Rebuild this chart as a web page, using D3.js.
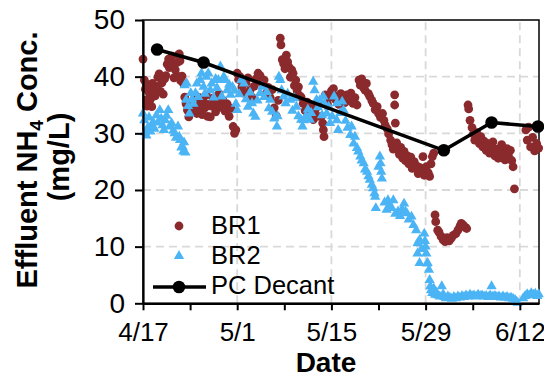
<!DOCTYPE html>
<html><head><meta charset="utf-8">
<script src="https://cdn.jsdelivr.net/npm/d3@7"></script>
<style>body{margin:0;background:#fff}svg{display:block}text{font-family:"Liberation Sans",Arial,sans-serif}</style>
</head><body><svg id="c" width="544" height="377"></svg>
<script>
const xTickDays=[0,14,28,42,56];
const xTickLabels=["4/17","5/1","5/15","5/29","6/12"];
const xMinorDays=[7,21,35,49];
const yTicks=[0,10,20,30,40,50];
const seriesNames=["BR1","BR2","PC Decant"];

const br1Days=[0.0,0.2,0.35,0.5,0.6,0.75,0.9,1.1,1.3,1.4,1.6,1.8,2.0,2.2,2.4,2.6,2.8,3.0,3.2,3.4,3.6,3.8,3.9,4.1,4.3,4.5,4.6,4.8,5.0,5.1,5.3,5.4,5.5,5.6,5.8,6.0,6.2,6.4,6.6,6.8,7.0,7.2,7.4,7.6,7.8,8.0,8.2,8.4,8.6,8.8,9.0,9.2,9.4,9.6,9.8,10.0,10.2,10.4,10.6,10.8,11.0,11.3,11.6,11.9,12.2,12.5,12.8,13.1,13.4,13.6,13.8,14.0,14.2,14.4,14.7,15.0,15.3,15.6,15.9,16.2,16.5,16.8,17.1,17.4,17.7,18.0,18.3,18.6,18.9,19.2,19.5,19.8,20.1,20.4,20.5,20.7,20.9,21.1,21.3,21.5,21.7,21.9,22.1,22.3,22.5,22.7,22.9,23.1,23.3,23.5,23.8,24.1,24.4,24.7,25.0,25.3,25.6,25.9,26.2,26.5,26.7,26.8,26.9,27.1,27.4,27.7,28.0,28.3,28.6,28.8,29.1,29.4,29.7,30.0,30.3,30.6,30.9,31.2,31.5,31.8,32.1,32.3,32.5,32.8,33.0,33.2,33.5,33.7,34.0,34.2,34.5,34.8,35.0,35.3,35.6,35.8,36.0,36.3,36.5,36.8,37.0,37.2,37.4,37.4,37.5,37.7,37.9,38.1,38.3,38.6,38.8,39.0,39.3,39.5,39.8,40.0,40.3,40.6,40.9,41.1,41.4,41.6,41.8,42.1,42.4,42.6,42.8,43.0,43.2,43.4,43.5,43.8,44.0,44.3,44.6,44.9,45.2,45.5,45.8,46.1,46.5,46.8,47.1,47.3,47.6,47.9,48.1,48.3,48.4,48.6,48.9,49.1,49.3,49.6,49.8,50.0,50.2,50.5,50.7,51.0,51.2,51.5,51.8,52.0,52.3,52.5,52.8,53.0,53.3,53.6,53.8,54.1,54.3,54.6,54.8,55.0,55.2,56.9,57.1,57.3,57.6,57.9,58.2,58.5,58.8];
const br1Vals=[43.1,39.4,37.8,35.9,34.8,38.6,37.2,36.0,34.7,38.8,37.9,36.6,38.3,39.9,40.5,37.4,38.9,36.9,39.6,40.2,42.2,43.1,41.6,42.6,43.6,42.0,39.8,41.2,40.2,42.5,43.9,44.0,42.8,39.3,40.1,38.8,36.4,35.2,34.1,32.9,33.6,35.4,34.2,36.0,34.8,33.5,35.0,36.3,34.1,33.3,35.6,34.5,36.8,33.0,35.1,32.9,34.8,36.2,35.0,33.8,35.4,37.0,34.6,35.8,33.9,35.2,33.0,34.4,31.2,30.0,30.6,40.6,39.5,40.0,38.2,37.1,38.9,39.8,37.6,36.4,38.3,39.6,40.6,40.2,38.8,39.4,37.0,38.1,36.3,37.7,34.5,33.1,35.8,46.8,45.6,43.0,42.3,41.4,43.8,42.6,41.7,39.9,41.2,40.6,38.4,39.4,37.5,38.2,36.6,36.4,35.3,34.0,35.5,33.2,34.7,32.4,34.2,33.0,35.6,33.0,31.8,30.6,29.4,36.8,35.2,36.4,37.5,37.9,36.0,36.5,35.1,37.0,36.2,35.4,36.8,35.9,37.1,35.3,36.3,35.0,39.4,38.5,39.6,38.0,37.6,38.8,37.0,36.5,35.8,35.3,34.2,34.7,33.5,32.8,33.5,32.3,31.4,30.8,29.9,28.8,28.0,27.2,36.8,35.0,31.8,28.3,27.1,26.3,27.5,25.6,26.8,25.2,26.0,24.6,25.8,23.8,25.0,24.3,22.9,24.0,23.3,25.9,22.6,24.1,23.0,22.4,24.6,25.9,26.5,15.6,14.4,12.9,12.5,11.8,11.2,10.9,11.6,11.0,11.5,12.0,12.3,12.9,13.6,14.1,13.8,13.4,13.2,35.0,34.3,32.3,31.0,29.9,28.8,30.1,29.0,28.2,29.4,27.6,28.6,27.0,28.2,26.5,27.6,28.5,26.0,27.2,25.6,26.8,28.0,26.4,25.3,27.3,26.1,27.0,25.2,24.1,20.2,30.6,28.8,31.1,27.6,29.3,26.9,28.2,27.4];

const br2Days=[0.0,0.2,0.3,0.5,0.7,0.9,1.1,1.3,1.5,1.7,2.0,2.2,2.5,2.7,2.9,3.1,3.3,3.5,3.75,4.0,4.25,4.5,4.7,4.9,5.2,5.4,5.5,5.7,5.9,6.0,6.1,6.3,6.2,6.4,6.5,6.7,6.9,7.1,7.3,7.5,7.8,8.0,8.2,8.5,8.7,9.0,9.2,9.4,9.7,10.0,10.2,10.5,10.8,11.0,11.2,11.5,11.7,12.0,12.2,12.5,12.8,13.0,13.3,13.6,13.8,14.0,14.3,14.6,15.0,15.3,15.6,15.9,16.2,16.4,16.7,17.0,17.4,17.7,18.0,18.4,18.7,18.9,19.2,19.5,19.9,20.0,20.2,20.4,20.6,20.9,21.2,21.5,21.9,22.2,22.5,22.8,23.1,23.5,23.7,23.9,24.2,24.5,24.8,25.0,25.3,25.5,25.8,26.0,26.3,26.6,26.8,27.0,27.3,27.6,27.8,28.1,28.4,28.8,28.8,29.0,29.3,29.6,29.8,30.1,30.4,30.8,31.0,31.3,31.5,31.8,32.0,32.3,32.5,32.8,33.0,33.3,33.5,33.7,34.0,34.2,34.4,34.5,34.6,35.0,35.2,35.3,35.4,35.5,35.9,36.2,36.4,36.7,36.9,37.2,37.5,37.9,38.2,38.5,38.8,39.0,39.2,39.5,39.9,40.2,40.6,40.8,40.8,41.1,41.1,41.4,41.8,41.9,42.0,42.1,42.2,42.3,42.5,42.6,42.7,42.8,43.0,43.2,43.4,43.6,43.8,44.1,44.4,44.6,44.8,45.0,45.3,45.6,45.9,46.2,46.5,46.8,47.1,47.4,47.7,48.0,48.3,48.6,48.9,49.2,49.5,49.8,50.1,50.4,50.7,51.0,51.3,51.6,51.8,52.0,52.3,52.6,52.9,53.2,53.5,53.8,54.1,54.4,54.7,55.0,55.3,55.5,55.7,56.5,56.8,57.1,57.4,57.7,58.0,58.3,58.6,58.8];
const br2Vals=[33.5,32.3,30.2,29.6,31.0,32.8,30.3,31.2,32.0,30.8,33.2,31.9,34.1,32.6,31.4,30.6,32.3,33.1,34.1,31.2,31.8,30.5,30.0,29.2,31.2,29.4,28.8,27.5,27.6,26.8,28.4,26.6,38.5,35.9,38.8,34.8,33.5,37.1,36.0,35.2,37.1,38.8,36.4,39.4,40.6,38.2,37.0,40.0,40.6,37.6,38.8,36.3,39.6,38.0,39.4,41.8,36.5,40.0,39.4,37.6,38.6,36.8,38.2,37.5,35.2,34.1,36.9,39.4,38.8,36.0,34.7,37.2,35.3,33.5,32.9,35.8,37.1,38.2,36.4,37.3,34.4,35.9,33.8,32.6,31.2,33.0,40.0,39.4,37.6,36.5,35.3,37.0,35.9,34.0,36.2,34.7,33.0,32.4,31.2,32.3,33.0,34.2,32.4,33.6,39.1,37.6,35.9,34.6,35.9,33.2,36.5,35.2,33.5,34.7,31.8,33.0,36.5,35.3,32.3,30.6,33.6,35.6,34.1,32.2,31.0,29.7,31.2,28.2,29.4,27.4,26.8,25.9,25.2,24.7,23.6,23.2,22.4,21.8,20.9,20.3,19.4,18.8,16.8,24.1,25.9,24.7,23.2,22.0,17.8,16.5,18.2,17.4,16.8,18.2,15.8,16.2,15.4,16.6,17.6,16.2,15.9,14.8,15.3,13.8,12.9,10.6,8.8,11.2,7.1,9.6,12.3,11.0,10.0,8.8,7.0,7.1,5.9,4.1,3.0,2.3,1.8,2.6,1.5,1.9,1.4,1.2,3.0,1.6,1.1,0.9,1.2,1.0,0.8,1.1,0.9,1.2,1.0,1.3,1.1,1.4,1.2,1.5,1.3,1.4,1.2,1.5,1.3,1.4,1.2,1.3,1.1,1.4,3.0,1.2,1.3,1.1,1.2,1.0,1.2,1.0,1.1,0.9,1.0,0.8,0.6,0.3,0.1,0.9,1.3,1.6,1.4,1.8,1.5,1.7,1.3,1.6];

const pcDays=[2.1,9.0,44.7,51.8,58.7];
const pcVals=[44.8,42.5,27.0,31.9,31.2];

const C_BR1="#8B2A2D", C_BR2="#4BB4F5";
const svg=d3.select("#c");
const x=d3.scaleLinear().domain([0,58.85]).range([143,539]);
const y=d3.scaleLinear().domain([0,50]).range([303.3,20]);

// grid
const g=svg.append("g");
g.selectAll("line.h").data(yTicks.filter(v=>v>0&&v<50)).join("line")
 .attr("x1",x(0)).attr("x2",x(58.85)).attr("y1",d=>y(d)).attr("y2",d=>y(d))
 .attr("stroke","#d9d9d9").attr("stroke-width",1.8).attr("stroke-dasharray","8,5");
g.selectAll("line.v").data(xTickDays.filter(v=>v>0)).join("line")
 .attr("x1",d=>x(d)).attr("x2",d=>x(d)).attr("y1",y(0)).attr("y2",y(50))
 .attr("stroke","#d9d9d9").attr("stroke-width",1.8).attr("stroke-dasharray","8,5");

// border (top/right)
svg.append("rect").attr("x",x(0)).attr("y",y(50)).attr("width",x(58.85)-x(0)).attr("height",y(0)-y(50))
 .attr("fill","none").attr("stroke","#000").attr("stroke-width",1.5);

// data
const br1=br1Days.map((d,i)=>[d,br1Vals[i]]);
const br2=br2Days.map((d,i)=>[d,br2Vals[i]]);
svg.append("g").selectAll("circle").data(br1).join("circle")
 .attr("cx",d=>x(d[0])).attr("cy",d=>y(d[1])).attr("r",4.4).attr("fill",C_BR1);
const tri=d3.symbol().type(d3.symbolTriangle).size(46);
svg.append("g").selectAll("path").data(br2).join("path")
 .attr("transform",d=>`translate(${x(d[0])},${y(d[1])})`).attr("d",tri).attr("fill",C_BR2);
const pc=pcDays.map((d,i)=>[d,pcVals[i]]);
svg.append("path").datum(pc).attr("d",d3.line().x(d=>x(d[0])).y(d=>y(d[1])))
 .attr("fill","none").attr("stroke","#000").attr("stroke-width",3.5);
svg.append("g").selectAll("circle").data(pc).join("circle")
 .attr("cx",d=>x(d[0])).attr("cy",d=>y(d[1])).attr("r",6.3).attr("fill","#000");

// axes
const ax=svg.append("g").attr("transform",`translate(${x(0)},0)`)
 .call(d3.axisLeft(y).tickValues(yTicks).tickSize(8).tickPadding(10).tickSizeOuter(0));
ax.select(".domain").attr("stroke-width",2.2);
ax.selectAll(".tick line").attr("stroke-width",2);
ax.selectAll("text").attr("font-size",28).attr("font-family","Liberation Sans, Arial, sans-serif").attr("fill","#000");
const bx=svg.append("g").attr("transform",`translate(0,${y(0)})`)
 .call(d3.axisBottom(x).tickValues(xTickDays.concat(xMinorDays)).tickSize(7).tickSizeOuter(0)
   .tickFormat(d=>{const i=xTickDays.indexOf(d);return i>=0?xTickLabels[i]:"";}));
bx.select(".domain").attr("stroke-width",2.2);
bx.selectAll(".tick line").attr("stroke-width",2);
bx.selectAll("text").attr("font-size",26).attr("font-family","Liberation Sans, Arial, sans-serif").attr("fill","#000")
 .attr("dy",0).attr("y",38);

// titles
svg.append("text").attr("x",326).attr("y",372).attr("text-anchor","middle")
 .attr("font-size",28).attr("font-weight","bold").text("Date");
const yl=svg.append("text").attr("transform","translate(37,160) rotate(-90)").attr("text-anchor","middle")
 .attr("font-size",29).attr("font-weight","bold");
yl.append("tspan").text("Effluent NH");
yl.append("tspan").attr("font-size",19).attr("dy",6).text("4");
yl.append("tspan").attr("dy",-6).text(" Conc.");
svg.append("text").attr("transform","translate(69,157) rotate(-90)").attr("text-anchor","middle")
 .attr("font-size",29).attr("font-weight","bold").text("(mg/L)");

// legend
const lg=svg.append("g");
lg.append("circle").attr("cx",179).attr("cy",226).attr("r",4.4).attr("fill",C_BR1);
lg.append("text").attr("x",211).attr("y",234).attr("font-size",25.5).text(seriesNames[0]);
lg.append("path").attr("transform","translate(179,256)").attr("d",tri).attr("fill",C_BR2);
lg.append("text").attr("x",211).attr("y",264).attr("font-size",25.5).text(seriesNames[1]);
lg.append("line").attr("x1",153).attr("x2",206).attr("y1",287).attr("y2",287).attr("stroke","#000").attr("stroke-width",3.5);
lg.append("circle").attr("cx",179).attr("cy",287).attr("r",6.3).attr("fill","#000");
lg.append("text").attr("x",211).attr("y",294).attr("font-size",25.5).text(seriesNames[2]);
</script></body></html>
